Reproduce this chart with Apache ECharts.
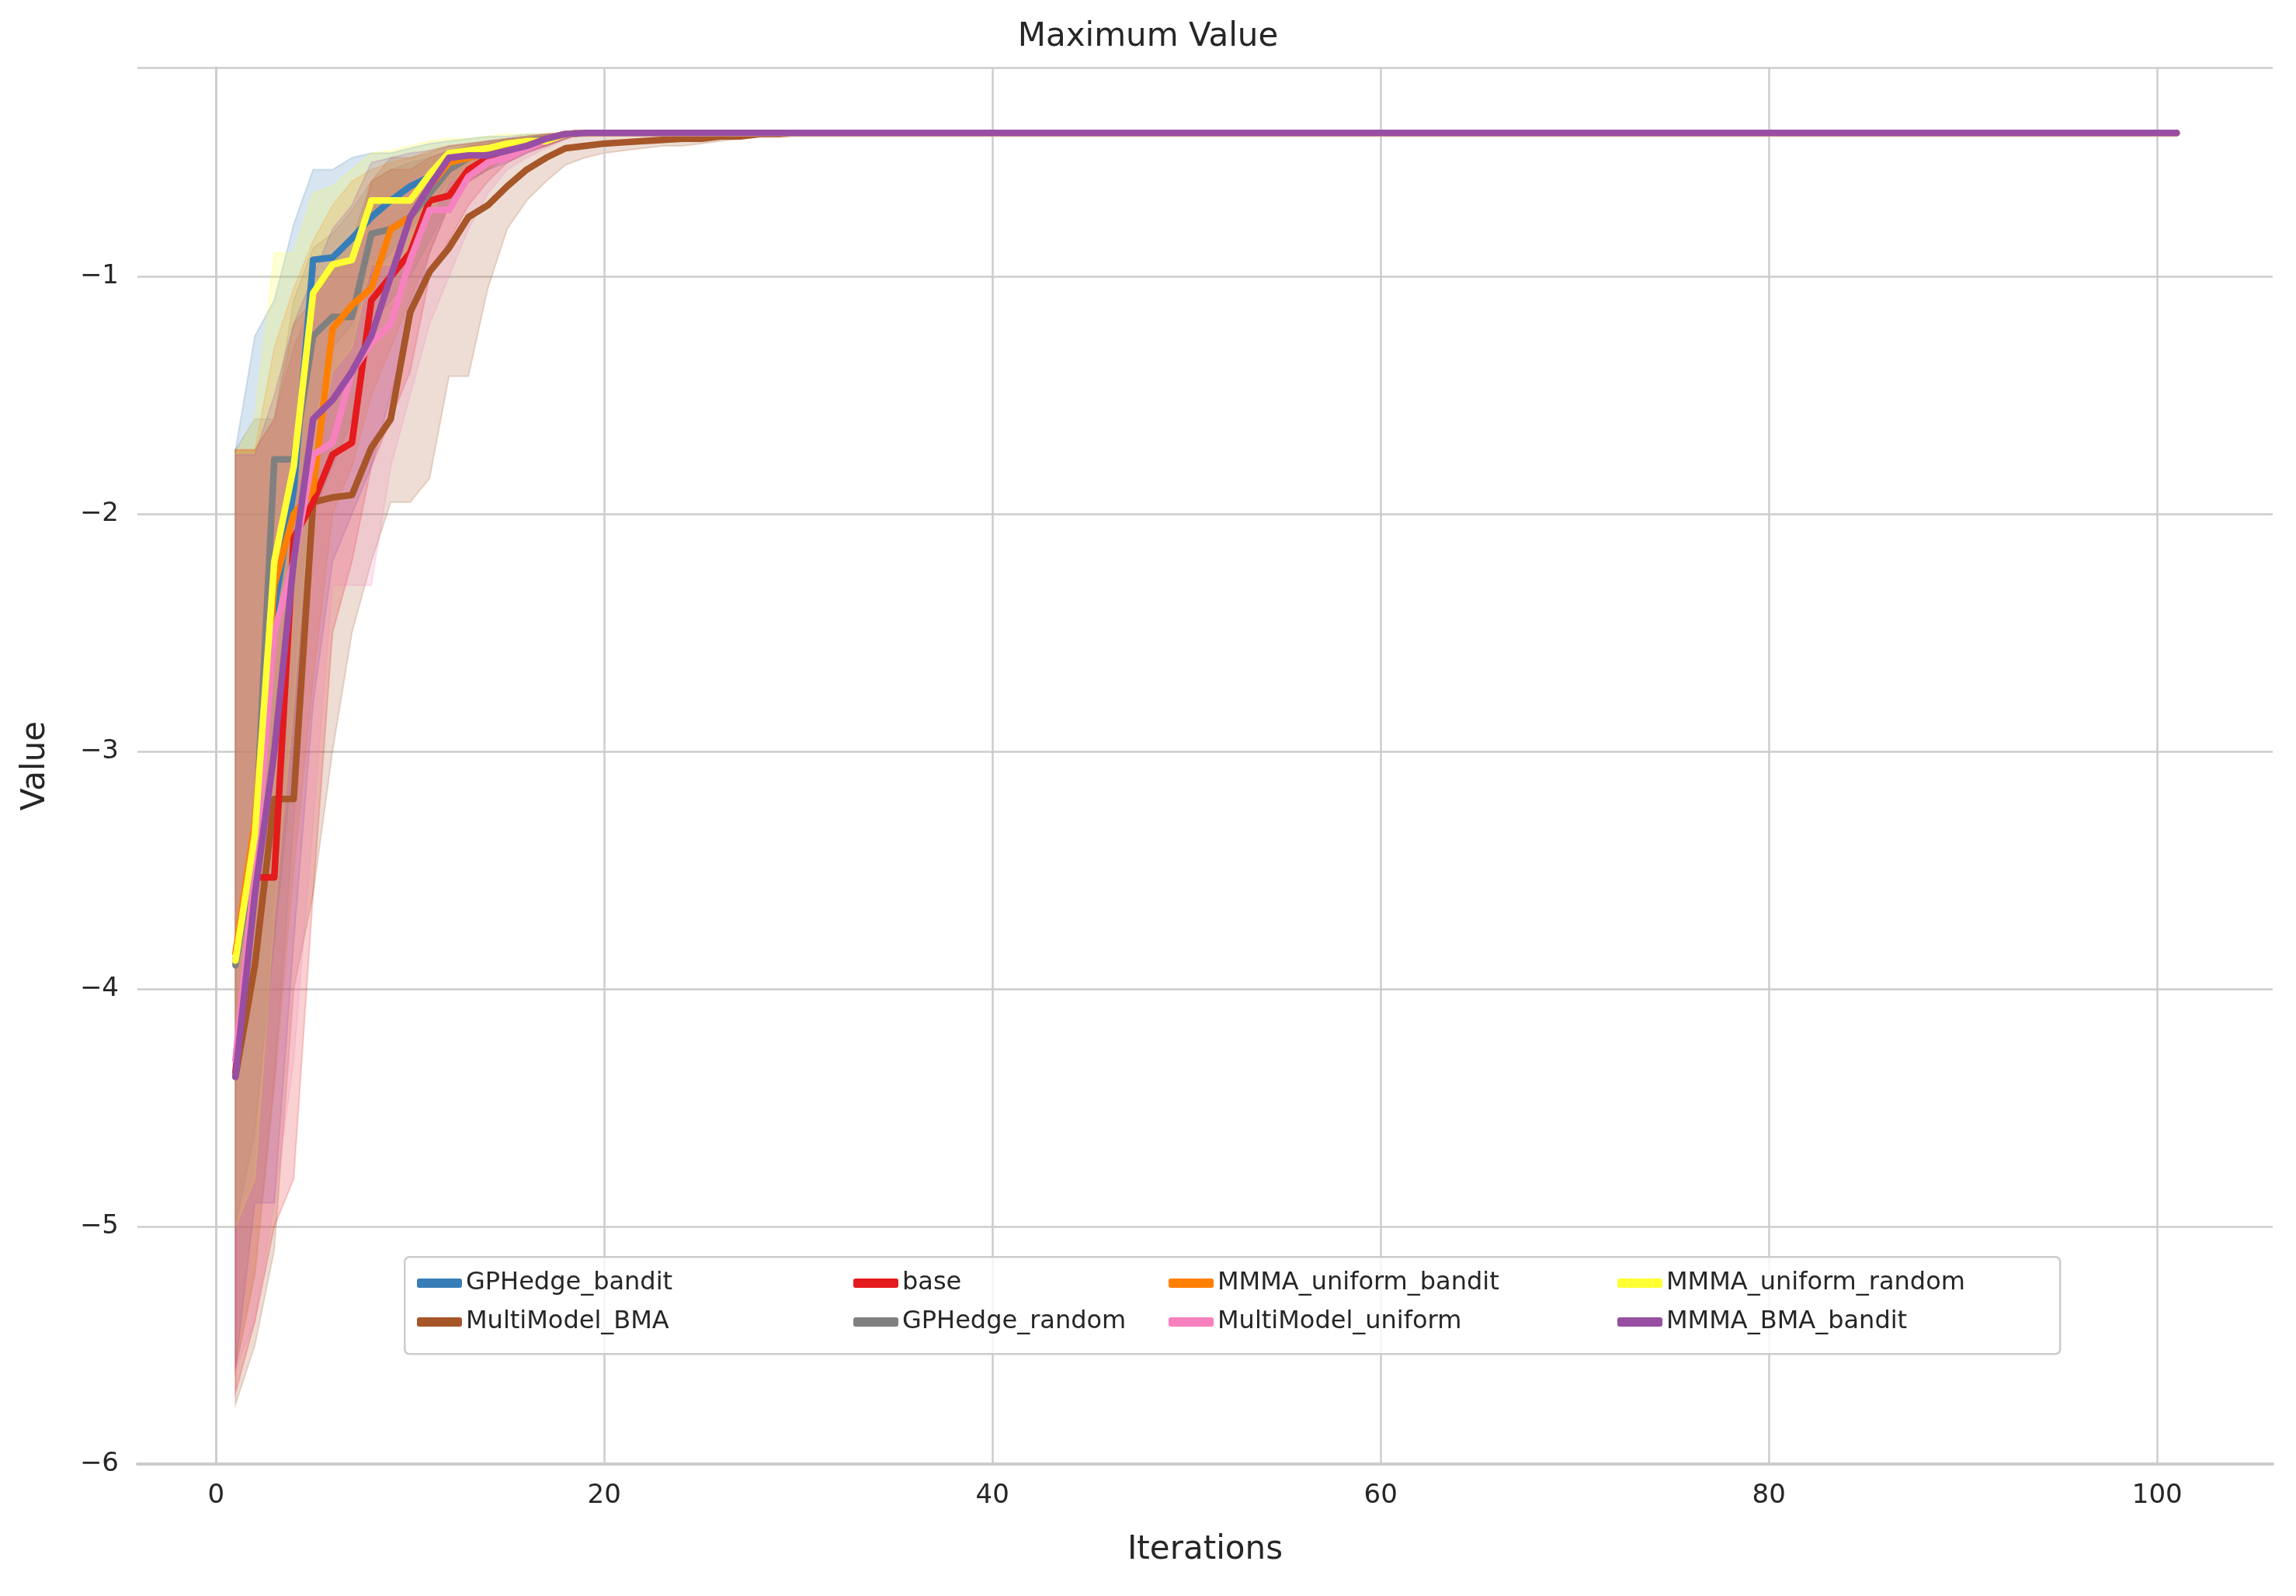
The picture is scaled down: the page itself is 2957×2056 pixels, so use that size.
<!DOCTYPE html>
<html>
<head>
<meta charset="utf-8">
<script src="https://cdn.jsdelivr.net/npm/echarts@6/dist/echarts.min.js"></script>
<style>html,body{margin:0;padding:0;background:#fff}#chart{width:2957px;height:2056px}</style>
</head>
<body>
<div id="chart"></div>
<script>
// iterations 1..101, values; after the head arrays every run sits on the plateau
const iterations = Array.from({length: 101}, (_, i) => i + 1)
const plateau = -0.395
const xTicks = [0, 20, 40, 60, 80, 100]

const names = ['GPHedge_bandit', 'MultiModel_BMA', 'base', 'GPHedge_random', 'MMMA_uniform_bandit', 'MultiModel_uniform', 'MMMA_uniform_random', 'MMMA_BMA_bandit']
const colors = ['#377eb8', '#a65628', '#e41a1c', '#808080', '#ff7f00', '#f781bf', '#ffff33', '#984ea3']

const gphedgeBandit = [-3.88,-3.4,-2.4,-1.9,-0.93,-0.92,-0.84,-0.75,-0.68,-0.62,-0.58,-0.52,-0.48,-0.46,-0.44,-0.43,-0.42,-0.40]
const gphedgeBanditLo = [-5.0,-4.6,-3.8,-3.0,-1.6,-1.3,-1.2,-1.0,-0.9,-0.8,-0.7,-0.6,-0.55,-0.5,-0.47,-0.45,-0.43,-0.41]
const gphedgeBanditHi = [-1.73,-1.25,-1.1,-0.78,-0.55,-0.55,-0.5,-0.48,-0.48,-0.46,-0.44,-0.43,-0.42,-0.41,-0.41,-0.40,-0.40,-0.395]

const multiBMA = [-4.37,-3.9,-3.2,-3.2,-1.95,-1.93,-1.92,-1.72,-1.6,-1.15,-0.98,-0.88,-0.75,-0.7,-0.62,-0.55,-0.5,-0.46,-0.45,-0.44,-0.435,-0.43,-0.425,-0.42,-0.42,-0.41,-0.41,-0.40,-0.40,-0.395]
const multiBMALo = [-5.75,-5.5,-5.1,-4.0,-3.6,-3.0,-2.5,-2.2,-1.95,-1.95,-1.85,-1.42,-1.42,-1.05,-0.8,-0.68,-0.6,-0.53,-0.5,-0.48,-0.47,-0.46,-0.45,-0.45,-0.44,-0.43,-0.42,-0.41,-0.40,-0.395]
const multiBMAHi = [-1.73,-1.73,-1.6,-1.3,-1.1,-0.95,-0.85,-0.6,-0.5,-0.5,-0.48,-0.45,-0.44,-0.43,-0.42,-0.42,-0.41,-0.41,-0.41,-0.40,-0.40,-0.40,-0.40,-0.40,-0.40,-0.40,-0.40,-0.395,-0.395,-0.395]

const base = [-4.35,-3.53,-3.53,-2.1,-1.95,-1.75,-1.70,-1.1,-1.0,-0.9,-0.68,-0.66,-0.55,-0.5,-0.46,-0.44,-0.42,-0.40]
const baseLo = [-5.7,-5.4,-5.0,-4.8,-3.6,-2.5,-2.2,-1.8,-1.6,-1.4,-1.0,-0.85,-0.7,-0.6,-0.52,-0.48,-0.45,-0.42]
const baseHi = [-1.73,-1.73,-1.6,-1.2,-1.1,-0.95,-0.95,-0.6,-0.55,-0.55,-0.5,-0.47,-0.45,-0.44,-0.42,-0.41,-0.40,-0.395]

const gphedgeRandom = [-3.9,-3.4,-1.77,-1.77,-1.25,-1.17,-1.17,-0.82,-0.80,-0.75,-0.65,-0.55,-0.5,-0.47,-0.45,-0.43,-0.42,-0.40]
const gphedgeRandomLo = [-5.6,-5.2,-4.4,-3.3,-2.0,-1.8,-1.6,-1.2,-1.1,-1.0,-0.85,-0.7,-0.6,-0.55,-0.5,-0.47,-0.45,-0.42]
const gphedgeRandomHi = [-1.73,-1.6,-1.6,-1.1,-0.88,-0.82,-0.72,-0.6,-0.55,-0.52,-0.5,-0.47,-0.45,-0.43,-0.42,-0.41,-0.40,-0.395]

const uniformBandit = [-3.85,-3.3,-2.3,-2.0,-1.9,-1.22,-1.12,-1.05,-0.8,-0.75,-0.62,-0.52,-0.5,-0.48,-0.45,-0.44,-0.42,-0.40]
const uniformBanditLo = [-5.6,-5.2,-4.4,-3.5,-2.7,-2.0,-1.8,-1.5,-1.3,-1.1,-0.9,-0.7,-0.6,-0.55,-0.5,-0.47,-0.45,-0.42]
const uniformBanditHi = [-1.73,-1.73,-1.3,-1.05,-0.85,-0.7,-0.6,-0.55,-0.52,-0.5,-0.47,-0.45,-0.44,-0.43,-0.42,-0.41,-0.40,-0.395]

const multiUniform = [-4.3,-3.5,-2.5,-2.2,-1.75,-1.70,-1.4,-1.28,-1.2,-0.93,-0.72,-0.72,-0.58,-0.52,-0.5,-0.46,-0.43,-0.40]
const multiUniformLo = [-5.6,-5.4,-4.9,-4.3,-3.3,-2.3,-2.3,-2.3,-1.8,-1.5,-1.2,-1.0,-0.8,-0.65,-0.55,-0.5,-0.46,-0.42]
const multiUniformHi = [-1.75,-1.75,-1.6,-1.3,-1.1,-1.0,-0.95,-0.75,-0.7,-0.6,-0.55,-0.5,-0.47,-0.45,-0.43,-0.42,-0.41,-0.395]

const uniformRandom = [-3.88,-3.35,-2.2,-1.8,-1.07,-0.95,-0.93,-0.68,-0.68,-0.68,-0.57,-0.48,-0.47,-0.46,-0.44,-0.43,-0.43,-0.40]
const uniformRandomLo = [-5.0,-4.8,-3.7,-2.8,-1.8,-1.4,-1.3,-0.95,-0.95,-0.9,-0.75,-0.6,-0.55,-0.5,-0.48,-0.45,-0.44,-0.41]
const uniformRandomHi = [-1.75,-1.6,-0.9,-0.9,-0.65,-0.62,-0.55,-0.48,-0.47,-0.45,-0.43,-0.42,-0.42,-0.41,-0.40,-0.40,-0.40,-0.395]

const bmaBandit = [-4.37,-3.6,-3.0,-2.2,-1.6,-1.52,-1.4,-1.25,-1.0,-0.75,-0.62,-0.5,-0.49,-0.49,-0.47,-0.45,-0.42,-0.40]
const bmaBanditLo = [-5.6,-4.9,-4.9,-3.8,-2.8,-2.2,-2.0,-1.8,-1.5,-1.2,-0.9,-0.7,-0.6,-0.55,-0.52,-0.48,-0.45,-0.42]
const bmaBanditHi = [-1.75,-1.75,-1.5,-1.2,-1.0,-0.8,-0.7,-0.52,-0.5,-0.48,-0.47,-0.45,-0.44,-0.43,-0.42,-0.41,-0.40,-0.395]

const means = [gphedgeBandit, multiBMA, base, gphedgeRandom, uniformBandit, multiUniform, uniformRandom, bmaBandit]
const lows = [gphedgeBanditLo, multiBMALo, baseLo, gphedgeRandomLo, uniformBanditLo, multiUniformLo, uniformRandomLo, bmaBanditLo]
const highs = [gphedgeBanditHi, multiBMAHi, baseHi, gphedgeRandomHi, uniformBanditHi, multiUniformHi, uniformRandomHi, bmaBanditHi]

const full = head => iterations.map((x, i) => i < head.length ? head[i] : plateau)

const series = []
// spread bands drawn as polygons through the axis scales
names.forEach((n, k) => {
  const lo = full(lows[k]), hi = full(highs[k])
  series.push({
    name: n + '_band', type: 'custom', silent: true, z: 1,
    data: [[1, lo[0]]],
    renderItem: (params, api) => {
      const top = iterations.map((x, i) => api.coord([x, hi[i]]))
      const bottom = iterations.map((x, i) => api.coord([x, lo[i]])).reverse()
      return {
        type: 'polygon',
        shape: {points: top.concat(bottom)},
        style: {fill: colors[k], opacity: 0.2, stroke: colors[k], lineWidth: 2}
      }
    }
  })
})
names.forEach((n, k) => {
  const m = full(means[k])
  series.push({
    name: n, type: 'line', symbol: 'none', color: colors[k], z: 5,
    lineStyle: {width: 8.5, color: colors[k], cap: 'round', join: 'round'},
    data: iterations.map((x, i) => [x, m[i]])
  })
})
// vertical grid lines at the x tick values
series.push({
  type: 'line', data: [], silent: true,
  markLine: {symbol: 'none', silent: true, label: {show: false},
    lineStyle: {color: '#cccccc', width: 2.5, type: 'solid'},
    data: xTicks.map(v => ({xAxis: v}))}
})

const legendCols = [[0, 1], [2, 3], [4, 5], [6, 7]]
const legendLeft = [532, 1094, 1500, 2078]
const legends = legendCols.map((c, j) => ({
  orient: 'vertical', left: legendLeft[j], top: 1632, itemGap: 18, z: 20,
  itemWidth: 58, itemHeight: 12, icon: 'roundRect',
  textStyle: {fontSize: 32, color: '#262626', fontFamily: 'DejaVu Sans'},
  data: c.map(k => names[k])
}))

const chart = echarts.init(document.getElementById('chart'))
chart.setOption({
  animation: false,
  backgroundColor: '#fff',
  title: {text: 'Maximum Value', left: 'center', top: 22,
    textStyle: {fontSize: 42, fontWeight: 'normal', color: '#262626', fontFamily: 'DejaVu Sans'}},
  grid: {left: 177, right: 30, top: 87, bottom: 170},
  legend: legends,
  graphic: [{type: 'rect', left: 520, top: 1618, z: 10,
    shape: {width: 2132, height: 125, r: 6},
    style: {fill: 'rgba(255,255,255,0.8)', stroke: '#cccccc', lineWidth: 2.5}}],
  xAxis: {
    type: 'value', min: -4.05, max: 105.95,
    name: 'Iterations', nameLocation: 'middle', nameGap: 90,
    nameTextStyle: {fontSize: 42, color: '#262626', fontFamily: 'DejaVu Sans'},
    axisLine: {show: true, onZero: false, lineStyle: {color: '#cccccc', width: 4}},
    axisTick: {show: false},
    splitLine: {show: false},
    axisLabel: {customValues: xTicks, fontSize: 34, color: '#262626', margin: 24, fontFamily: 'DejaVu Sans'}
  },
  yAxis: {
    type: 'value', min: -6, max: -0.12, interval: 1,
    name: 'Value', nameLocation: 'middle', nameGap: 110,
    nameTextStyle: {fontSize: 42, color: '#262626', fontFamily: 'DejaVu Sans'},
    axisLine: {show: true, lineStyle: {color: '#cccccc', width: 3}},
    axisTick: {show: false},
    splitLine: {lineStyle: {color: '#cccccc', width: 2.5}},
    axisLabel: {fontSize: 34, color: '#262626', margin: 24, showMaxLabel: false,
      fontFamily: 'DejaVu Sans', formatter: v => (v < 0 ? '\u2212' + Math.abs(v) : v)}
  },
  series: series
})
</script>
</body>
</html>
